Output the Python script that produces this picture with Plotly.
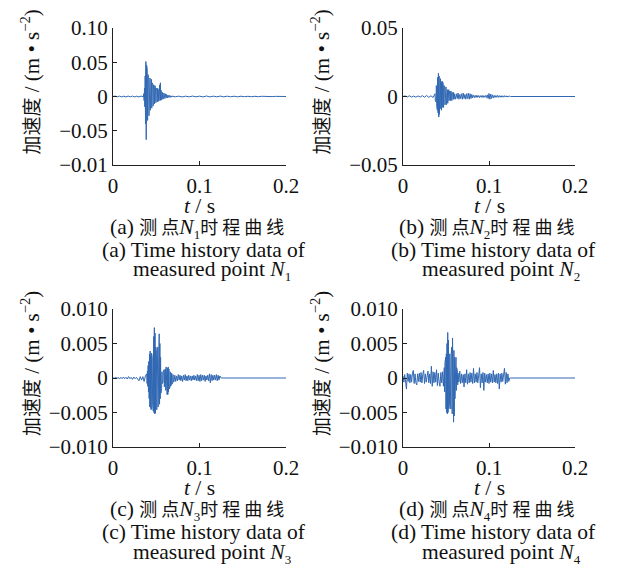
import plotly.graph_objects as go

W, H = 622, 577

# ---------------- data ----------------
# Each panel: list of segments (t_start, t_step, values)
a_pre = [0, 0.0006, -0.0005, 0.0006, -0.0006, 0.0005, -0.0006, 0.0006, -0.0005, 0.0006,
         -0.0006, 0.0005, -0.0006, 0.0006, -0.0005]
a_burst = [0.004, -0.006, 0.012, -0.015, 0.03, -0.04, 0.051, -0.063, 0.046, -0.05,
           0.04, -0.035, 0.032, -0.03, 0.028, -0.028, 0.024, -0.022, 0.027, -0.02,
           0.022, -0.019, 0.025, -0.017, 0.02, -0.016, 0.018, -0.014, 0.017, -0.012,
           0.015, -0.011, 0.016, -0.01, 0.013, -0.009, 0.012, -0.009, 0.011, -0.008,
           0.012, -0.007, 0.01, -0.007, 0.014, -0.006, 0.017, -0.006, 0.02, -0.005,
           0.009, -0.005, 0.007, -0.004, 0.006, -0.004, 0.005, -0.003, 0.005, -0.003,
           0.004, -0.003, 0.004, -0.002, 0.003, -0.002, 0.003, -0.002, 0.002, -0.002,
           0.002, -0.0015, 0.002, -0.0015, 0.0015, -0.001, 0.0015, -0.001, 0.001, -0.001]
a_post = [0.0006, -0.0005, 0.0005, -0.0006, 0.0005, -0.0005, 0.0006, -0.0005, 0.0005, -0.0006,
          0.0007, -0.0006, 0.0005, -0.0005, 0.0006, -0.0005, 0.0005, -0.0004, 0.0004, -0.0004,
          0.0004, -0.0003, 0.0003, -0.0003, 0.0003, -0.0003, 0.0003, -0.0002, 0.0002, -0.0002,
          0.0002, -0.0001, 0.0001, 0]

b_pre = [0, 0.0004, -0.0003, 0.0005, -0.0004, 0.0003, -0.0005, 0.0004, -0.0004, 0.0006,
         -0.0005, 0.0007, -0.0006, 0.0005, -0.0007]
b_burst = [0.002, -0.003, 0.005, -0.004, 0.008, -0.007, 0.012, -0.01, 0.014, -0.012,
           0.017, -0.015, 0.015, -0.013, 0.012, -0.011, 0.013, -0.009, 0.011, -0.01,
           0.01, -0.008, 0.011, -0.007, 0.009, -0.008, 0.008, -0.006, 0.007, -0.006,
           0.006, -0.005, 0.007, -0.006, 0.005, -0.004, 0.005, -0.005, 0.004, -0.004,
           0.005, -0.003, 0.004, -0.003, 0.003, -0.003, 0.004, -0.002, 0.003, -0.003,
           0.003, -0.002, 0.002, -0.002, 0.003, -0.002, 0.002, -0.002, 0.002, -0.002]
b_tail = [0.002, -0.0015, 0.0025, -0.002, 0.0015, -0.0015, 0.002, -0.002, 0.0025, -0.0015,
          0.0015, -0.002, 0.002, -0.0015, 0.0025, -0.002, 0.002, -0.0015, 0.0015, -0.001,
          0.001, -0.0008, 0.0008, -0.0007, 0.0009, -0.0006, 0.0007, -0.0008, 0.0006, -0.0006,
          0.0008, -0.0007, 0.0006, -0.0006, 0.0007, -0.0008, 0.0012,
          -0.0015, 0.0022, -0.002, 0.0018, -0.0015, 0.0012, -0.001,
          0.0008, -0.0007, 0.0007, -0.0006, 0.0008, -0.0006, 0.0006, -0.0005, 0.0006, -0.0005,
          0.0005, -0.0005, 0.0006, -0.0004, 0.0005, -0.0004, 0.0004, -0.0003, 0.0003]
b_post = [0, 0]

c_pre = [0.0001, -0.0001, 0.00015, -0.0001, 0.0001, -0.00015, 0.0001, -0.0001, 0.00015, -0.0001,
         0.0001, -0.00015, 0.0002, -0.0001, 0.0001, -0.0002, 0.00015, -0.0001, 0.0001, -0.0002,
         -0.0004, 0.0002, -0.0003, 0.0002, -0.0005, 0.0003]
c_burst = [0.0006, -0.0008, 0.001, -0.0012, 0.0018, -0.002, 0.0024, -0.003, 0.0035, -0.0042,
           0.0039, -0.0044, 0.0033, -0.0046, 0.0036, -0.0045, 0.003, -0.004, 0.0045, -0.0048,
           0.006, -0.005, 0.0073, -0.0052, 0.0065, -0.0051, 0.0045, -0.005, 0.004, -0.0046,
           0.0035, -0.004, 0.0045, -0.0042, 0.0058, -0.0041, 0.0064, -0.0038, 0.005, -0.003,
           0.003, -0.0022, 0.0018, -0.0015, 0.0009, -0.0008, 0.0007, -0.0007, 0.001, -0.001,
           0.0012, -0.0013, 0.0011, -0.0015, 0.0013, -0.0018, 0.0016, -0.0022, 0.0015, -0.0024,
           0.0014, -0.0024, 0.0016, -0.002, 0.0013, -0.0016, 0.0011, -0.0014, 0.0009, -0.0012,
           0.0008, -0.001, 0.0007, -0.0009, 0.0006, -0.0007, 0.0005, -0.0006, 0.0005, -0.0005]
c_tail = [0.0004, -0.0005, 0.0003, -0.0004, 0.0005, -0.0003, 0.0004, -0.0004, 0.0003, -0.0005,
          0.0004, -0.0003, 0.0005, -0.0004, 0.0003, -0.0004, 0.0004, -0.0003, 0.0003, -0.0004,
          0.0003, -0.0003, 0.0004, -0.0003, 0.0003, -0.0004, 0.0005, -0.0004, 0.0004, -0.0005,
          0.0005, -0.0004, 0.0004, -0.0003, 0.0004, -0.0005, 0.0003, -0.0003, 0.0004, -0.0004,
          0.0006, -0.0007, 0.0005, -0.0004, 0.0004, -0.0003, 0.0004, -0.0003, 0.0005, -0.0004,
          0.0004, -0.0003, 0.0003, 0]
c_post = [0, 0]

d_pre = [0.0003, -0.0006, 0.0005, -0.0008, -0.0016, 0.0007, -0.0005, 0.0006, -0.0007, 0.0005,
         -0.0006, 0.0007, 0.0011, -0.0008, 0.0006, -0.0007, -0.001, 0.0006, -0.0005, 0.0007,
         -0.0006, 0.0008, -0.0007, 0.0005, 0.0011, -0.0008, 0.0006, -0.0006, 0.0007, 0.001,
         -0.0007, 0.0006, -0.0008, 0.0017, -0.0012, 0.0009, -0.0007, 0.0008, -0.0006, 0.0012,
         -0.0011, 0.0007, -0.0006, -0.0012, 0.0008, -0.0007, 0.0009, -0.0012]
d_burst = [0.0015, -0.002, 0.0022, -0.003, 0.003, -0.0045, 0.0035, -0.005, 0.005, -0.0052,
           0.0066, -0.005, 0.0055, -0.0045, 0.004, -0.004, 0.0035, -0.0042, 0.003, -0.0045,
           0.0035, -0.0048, 0.0045, -0.0052, 0.0058, -0.005, 0.0045, -0.0064, 0.004, -0.0055,
           0.003, -0.003, 0.0025, -0.002, 0.003, -0.0018, 0.0015, -0.0012, 0.001, -0.001]
d_post = [0.0007, -0.0006, 0.001, -0.0008, 0.0006, -0.0007, 0.0005, -0.0013, 0.0006, -0.0007,
          0.0012, -0.0009, 0.0006, -0.0007, 0.0008, -0.0006, 0.0007, -0.0008, 0.0014, -0.0007,
          0.0006, -0.0006, 0.0008, -0.0007, 0.0007, 0.0015, -0.0014, 0.0006, -0.0007, 0.0008,
          -0.0018, 0.0007, -0.0006, 0.0005, -0.0007, 0.0006, -0.0008, 0.0007, -0.0006, 0.0006,
          -0.0007, 0.0011, -0.0006, 0.0005, -0.0007, 0.0006, -0.0008, 0.0007, -0.0016, 0.0006,
          -0.0006, 0.0007, -0.0005, 0.0006, 0.0014, -0.0009, 0.0008, -0.0007, 0.0006, -0.0005, 0]
d_end = [0, 0]

panels = {
    "a": [(0.0, 0.0025, a_pre), (0.0356, 0.0004, a_burst), (0.068, 0.004, a_post)],
    "b": [(0.0, 0.0025, b_pre), (0.0372, 0.0004, b_burst), (0.062, 0.001, b_tail), (0.125, 0.075, b_post)],
    "c": [(0.0, 0.0015, c_pre), (0.039, 0.0004, c_burst), (0.0715, 0.001, c_tail), (0.125, 0.075, c_post)],
    "d": [(0.0, 0.001, d_pre), (0.048, 0.0004, d_burst), (0.064, 0.001, d_post), (0.125, 0.075, d_end)],
}

x_ticks = [0, 0.1, 0.2]
x_ticktext = ["0", "0.1", "0.2"]
y_ticks = {
    "a": [0.1, 0.05, 0, -0.05, -0.1],
    "b": [0.05, 0, -0.05],
    "c": [0.01, 0.005, 0, -0.005, -0.01],
    "d": [0.01, 0.005, 0, -0.005, -0.01],
}
y_ticktext = {
    "a": ["0.10", "0.05", "0", "\u22120.05", "\u22120.01"],
    "b": ["0.05", "0", "\u22120.05"],
    "c": ["0.010", "0.005", "0", "\u22120.005", "\u22120.010"],
    "d": ["0.010", "0.005", "0", "\u22120.005", "\u22120.010"],
}
y_ranges = {"a": [-0.1, 0.1], "b": [-0.05, 0.05], "c": [-0.01, 0.01], "d": [-0.01, 0.01]}

CN = '<span style="font-family:Noto Sans CJK SC;font-size:18px">{}</span>'
SUB = '<sub><span style="font-size:13px">{}</span></sub>'
captions_cn = {k: f"({k}) " + CN.format("测 点") + "<i>N</i>" + SUB.format(i) + CN.format("时 程 曲 线")
               for i, k in enumerate("abcd", 1)}
captions_en1 = {k: f"({k}) Time history data of" for k in "abcd"}
captions_en2 = {k: "measured point <i>N</i>" + SUB.format(i) for i, k in enumerate("abcd", 1)}
x_title = "<i>t</i> / s"
y_title = ('<span style="font-family:Noto Sans CJK SC;font-size:19px">加速度</span>'
           ' / (m • s<sup>\u22122</sup>)')

# ---------------- layout geometry (pixels of the page; body has an 8px margin) ----------------
OFF = 8

def px(x):
    return (x - OFF) / W

def py(y):
    return 1 - (y - OFF) / H

geom = {
    "a": dict(x0=113, x1=286, y0=28, y1=165),
    "b": dict(x0=403, x1=575, y0=28, y1=165),
    "c": dict(x0=113, x1=286, y0=309, y1=447),
    "d": dict(x0=403, x1=575, y0=309, y1=447),
}

LINE_COLOR = "#3168b3"
AXIS_COLOR = "#222222"
SERIF = "Liberation Serif, Times New Roman, serif"
FS_TICK = 21
FS_CAP = 21.5
TXT = "#111111"

fig = go.Figure()
annotations = []
layout = {}

def ann(text, x, y, angle=0, size=FS_CAP):
    return dict(text=text, x=px(x), y=py(y), xref="paper", yref="paper",
                xanchor="center", yanchor="middle", showarrow=False, textangle=angle,
                font=dict(family=SERIF, size=size, color=TXT))

for i, k in enumerate("abcd", 1):
    xs, ys = [], []
    for t0, dt, vals in panels[k]:
        for j, v in enumerate(vals):
            xs.append(t0 + j * dt)
            ys.append(v)
    xa = "x" if i == 1 else f"x{i}"
    ya = "y" if i == 1 else f"y{i}"
    fig.add_trace(go.Scatter(x=xs, y=ys, mode="lines", xaxis=xa, yaxis=ya,
                             line=dict(color=LINE_COLOR, width=1), showlegend=False,
                             hoverinfo="skip"))
    g = geom[k]
    xkey = "xaxis" if i == 1 else f"xaxis{i}"
    ykey = "yaxis" if i == 1 else f"yaxis{i}"
    layout[xkey] = dict(domain=[px(g["x0"]), px(g["x1"])], anchor=ya, range=[0, 0.2],
                        tickvals=x_ticks, ticktext=x_ticktext, ticks="inside", ticklen=4,
                        tickcolor=AXIS_COLOR, showline=True, linecolor=AXIS_COLOR, linewidth=1,
                        showgrid=False, zeroline=False, ticklabelstandoff=2, automargin=False,
                        tickfont=dict(family=SERIF, size=FS_TICK, color=TXT))
    layout[ykey] = dict(domain=[py(g["y1"]), py(g["y0"])], anchor=xa, range=y_ranges[k],
                        tickvals=y_ticks[k], ticktext=y_ticktext[k], ticks="inside", ticklen=4,
                        tickcolor=AXIS_COLOR, showline=True, linecolor=AXIS_COLOR, linewidth=1,
                        showgrid=False, zeroline=False, automargin=False,
                        tickfont=dict(family=SERIF, size=FS_TICK, color=TXT))
    cx = (g["x0"] + g["x1"]) / 2
    base = g["y1"]
    annotations += [
        ann(x_title, cx, base + 41),
        ann(captions_cn[k], cx - 3, base + 62),
        ann(captions_en1[k], cx + 4, base + 85),
        ann(captions_en2[k], cx + 12, base + 106),
        ann(y_title, g["x0"] - 83, (g["y0"] + g["y1"]) / 2 - 14, angle=-90, size=FS_TICK),
    ]

fig.update_layout(width=W, height=H, margin=dict(l=0, r=0, t=0, b=0),
                  paper_bgcolor="white", plot_bgcolor="white",
                  annotations=annotations, **layout)

fig.write_html("out.html")
